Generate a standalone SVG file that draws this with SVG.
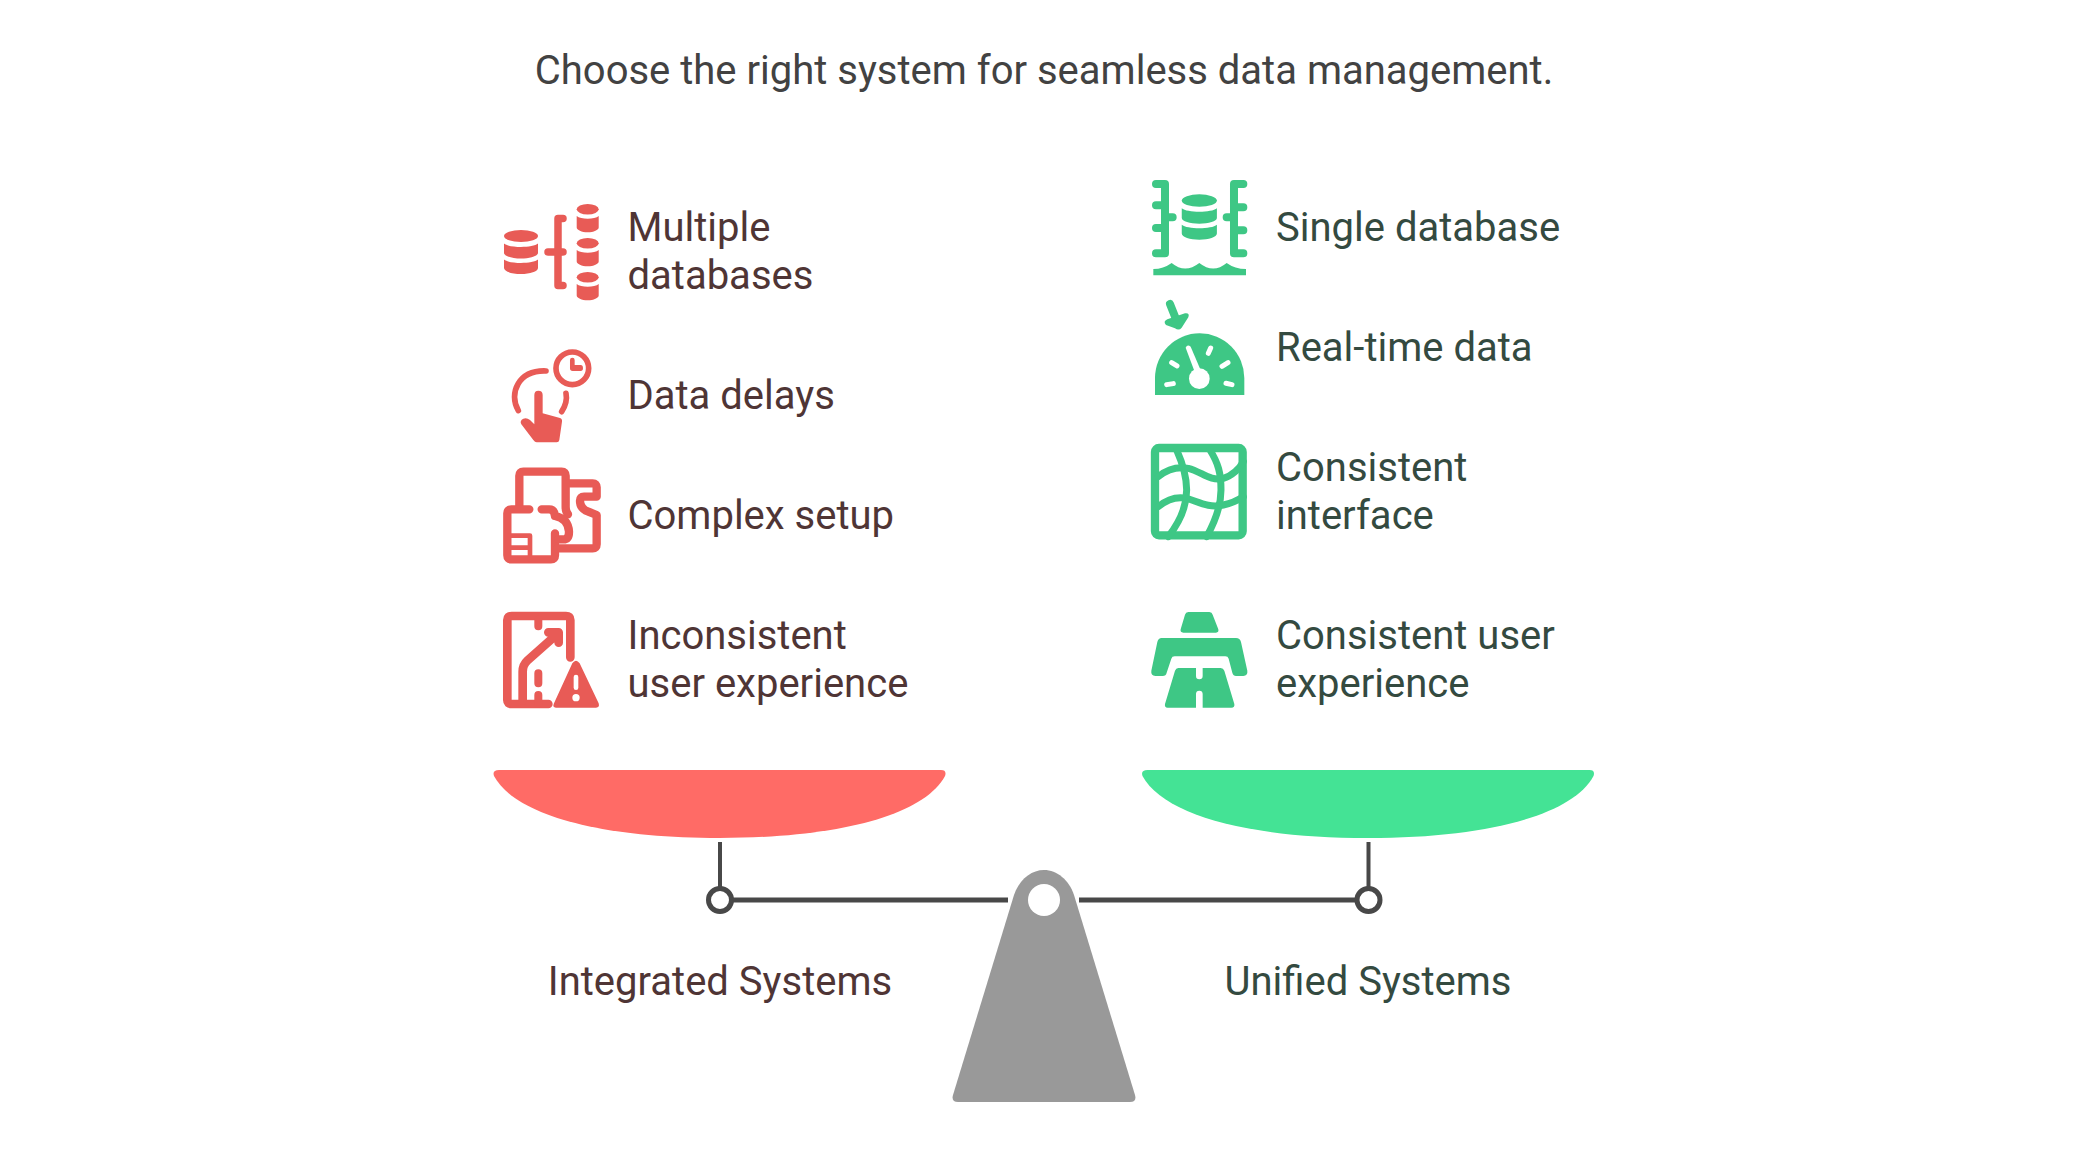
<svg xmlns="http://www.w3.org/2000/svg" width="2088" height="1175" viewBox="0 0 2088 1175">
<style>
text{font-family:Roboto,"Liberation Sans",sans-serif;font-size:40px}
.t{fill:#424242}.l{fill:#4f3535}.r{fill:#344a40}
.rf{fill:#e85b56}.gf{fill:#3ec785}
.rs{fill:none;stroke:#e85b56;stroke-linecap:round;stroke-linejoin:round}
.gs{fill:none;stroke:#3ec785;stroke-linecap:round;stroke-linejoin:round}
.w{fill:#fff}
.z{fill:none;stroke:#484848}
</style>
<defs>
<g id="db">
<ellipse cx="0" cy="6" rx="17" ry="6"/>
<path d="M-17 13.500C-12 18 12 18 17 13.500V23C17 26 9 28.500 0 28.500S-17 26-17 23Z"/>
<path d="M-17 29.500C-12 34 12 34 17 29.500V38C17 41.500 9 44 0 44S-17 41.500-17 38Z"/>
</g>
<g id="dbs">
<ellipse cx="0" cy="5.300" rx="11" ry="5.300"/>
<path d="M-11 12C-7 15.500 7 15.500 11 12V23.500C11 26 6 28.300 0 28.300S-11 26-11 23.500Z"/>
</g>
</defs>
<rect width="2088" height="1175" fill="#fff"/>
<text id="title" class="t" x="1044" y="84" text-anchor="middle">Choose the right system for seamless data management.</text>

<g id="connectors">
<path class="z" stroke-width="4" d="M720 842V887M1368.500 842V887"/>
<path class="z" stroke-width="5" d="M732 900H1008M1079 900H1356"/>
<circle class="z" stroke-width="5" cx="720" cy="900" r="11.500"/>
<circle class="z" stroke-width="5" cx="1368.500" cy="900" r="11.500"/>
</g>

<g id="pan-left"><path fill="#ff6b66" d="M499 770H941Q947 770 945 776C924 815 839 838 719.500 838C600 838 515 815 494 776Q492 770 499 770Z"/></g>
<g id="pan-right"><path fill="#44e395" d="M1147.500 770H1589.500Q1595.500 770 1593.500 776C1572.500 815 1487.500 838 1368 838C1248.500 838 1163.500 815 1142.500 776Q1140.500 770 1147.500 770Z"/></g>
<g id="fulcrum">
<path fill="#999" d="M958 1102Q951 1102 953 1095L1014 895C1019 880 1031 870 1044 870C1057 870 1069 880 1074 895L1135 1095Q1137 1102 1130 1102Z"/>
<circle class="w" cx="1044" cy="900" r="16"/>
</g>

<g id="icon-multiple-databases">
<use href="#db" class="rf" transform="translate(521 230)"/>
<use href="#dbs" class="rf" transform="translate(587.700 204)"/>
<use href="#dbs" class="rf" transform="translate(587.700 238)"/>
<use href="#dbs" class="rf" transform="translate(587.700 272)"/>
<path class="rs" stroke-width="7.500" d="M563 218.500H558V285.500H563M548 252H563"/>
</g>
<g id="node-multiple"><text class="l" x="627.500" y="241">Multiple</text><text class="l" x="627.500" y="289">databases</text></g>

<g id="icon-data-delays" transform="translate(480 180) scale(.3333)">
<circle class="rs" stroke-width="17" cx="277" cy="565" r="49"/>
<path class="rf" d="M270 540Q270 533 277 533Q284 533 284 540V555H302Q309 555 309 565Q309 573 302 573H278Q270 573 270 565Z"/>
<path class="rs" stroke-width="17" d="M115 692C85 640 115 570 198 573M258 640C262 660 255 680 245 695"/>
<path class="rf" d="M163 645Q163 632 175 632Q188 632 188 645V700L240 714Q247 716 246 725L238 780Q237 787 230 787H170Q165 787 160 780L124 733Q118 722 130 716Q140 712 150 720L163 733Z"/>
</g>
<g id="node-delays"><text class="l" x="627.500" y="409">Data delays</text></g>

<g id="icon-complex" transform="translate(500 460) scale(.3333)">
<path class="rs" stroke-width="25" d="M58 145V47Q58 35 70 35H185Q197 35 197 47V140Q197 155 204 163"/>
<path class="rs" stroke-width="25" d="M88 148H34Q22 148 22 160V286Q22 298 34 298H153Q165 298 165 286V220"/>
<path class="rs" stroke-width="25" d="M125 148H148Q163 148 165 168Q205 176 207 215Q207 238 190 238H175"/>
<path class="rs" stroke-width="25" d="M210 70H278Q290 70 290 82V110H252Q240 110 240 122Q240 146 265 155L290 165V253Q290 265 278 265H172"/>
<path class="rs" stroke-width="14" d="M28 227H90V298M28 263H90"/>
</g>
<g id="node-complex"><text class="l" x="627.500" y="529">Complex setup</text></g>

<g id="icon-inconsistent" transform="translate(480 450) scale(.3333)">
<path class="rs" stroke-width="26" d="M205 762H95Q82 762 82 750V510Q82 498 95 498H258Q271 498 271 510V622"/>
<path class="rs" stroke-width="24" d="M175 509V529M175 670V700M175 735V760"/>
<path class="rs" stroke-width="26" d="M128 752V665Q128 645 142 632L232 552M205 547H236V578"/>
<path class="rf" d="M277 640Q288 625 299 640L356 760Q360 773 348 773H228Q216 773 222 760Z"/>
<rect class="w" x="281" y="674" width="14" height="46" rx="7"/>
<circle class="w" cx="288" cy="743" r="11"/>
</g>
<g id="node-inconsistent"><text class="l" x="627.500" y="649">Inconsistent</text><text class="l" x="627.500" y="697">user experience</text></g>

<g id="icon-single-database" transform="translate(1130 170) scale(.3333)">
<path class="gs" stroke-width="24" d="M78 42H105V250H78M78 106H105M78 174H105M105 142H128"/>
<path class="gs" stroke-width="24" d="M340 42H312V250H340M340 112H312M340 181H312M312 142H290"/>
<use href="#db" class="gf" transform="translate(208 73) scale(3.100)"/>
<path class="gf" d="M70 297Q100 297 125 279Q165 312 208 279Q250 312 290 279Q315 297 348 297V316H70Z"/>
</g>
<g id="node-single"><text class="r" x="1276" y="241">Single database</text></g>

<g id="icon-realtime" transform="translate(1130 170) scale(.3333)">
<path class="gf" d="M75 675V624A134 134 0 0 1 343 624V675Z"/>
<circle class="w" cx="208" cy="626" r="31"/>
<path class="w" d="M167 533Q172 522 182 530L216 610L198 616Z"/>
<path stroke="#fff" stroke-width="15" stroke-linecap="round" fill="none" d="M242 534L235 550M125 578L141 588M294 578L276 589M110 644L130 641M306 644L288 640"/>
<path class="gs" stroke-width="24" d="M120 402L140 452"/>
<path class="gf" d="M112 448L165 430Q180 428 175 442L155 473Q147 483 135 475L108 465Q98 455 112 448Z"/>
</g>
<g id="node-realtime"><text class="r" x="1276" y="361">Real-time data</text></g>

<g id="icon-interface" transform="translate(1145 440) scale(.3333)">
<rect class="gs" stroke-width="25" x="30" y="24" width="263" height="262" rx="12"/>
<path class="gs" stroke-width="21" d="M40 110C70 85 100 80 130 85C170 95 195 125 235 115C260 108 285 85 295 65"/>
<path class="gs" stroke-width="21" d="M40 200C70 175 100 170 125 175C160 185 190 205 235 195C260 190 280 180 295 170"/>
<path class="gs" stroke-width="21" d="M95 30C115 75 125 110 125 150C125 200 105 245 70 290"/>
<path class="gs" stroke-width="21" d="M195 30C220 70 228 100 228 150C228 200 210 245 185 290"/>
</g>
<g id="node-interface"><text class="r" x="1276" y="481">Consistent</text><text class="r" x="1276" y="529">interface</text></g>

<g id="icon-road" transform="translate(1130 430) scale(.3333)">
<path class="gf" d="M175 546H238Q246 546 248 554L265 598Q267 608 258 608H160Q150 608 152 598L165 554Q167 546 175 546Z"/>
<path class="gf" d="M95 624H318Q330 624 333 636L352 722Q354 737 340 738H318Q310 738 307 728L296 686Q294 679 286 679H134Q126 679 124 686L110 728Q108 738 98 738H76Q62 737 64 722L82 636Q85 624 95 624Z"/>
<path class="gf" d="M145 714H198V738Q198 748 208 748Q218 748 218 738V714H272Q280 714 283 722L313 822Q315 833 304 833H218V792Q218 782 208 782Q198 782 198 792V833H113Q103 833 105 822L135 722Q138 714 145 714Z"/>
</g>
<g id="node-road"><text class="r" x="1276" y="649">Consistent user</text><text class="r" x="1276" y="697">experience</text></g>

<text id="label-integrated" class="l" x="720" y="995" text-anchor="middle">Integrated Systems</text>
<text id="label-unified" class="r" x="1368" y="995" text-anchor="middle">Unified Systems</text>
</svg>
